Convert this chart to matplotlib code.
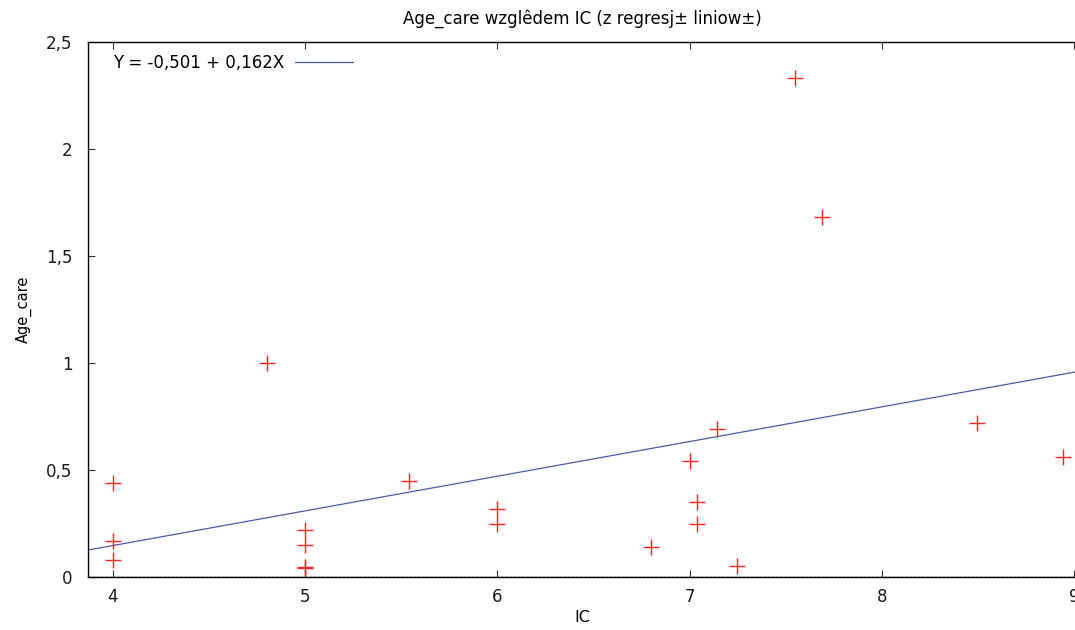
import os
import matplotlib
matplotlib.use("Agg")
import matplotlib.pyplot as plt
from matplotlib import font_manager
import numpy as np

# dane
ic = [4, 4, 4, 4.8, 5, 5, 5, 5, 5.54, 6, 6, 6.8, 7, 7.04, 7.04, 7.14, 7.245, 7.547, 7.69, 8.495, 8.94]
age_care = [0.44, 0.17, 0.08, 1.0, 0.22, 0.15, 0.04, 0.045, 0.45, 0.32, 0.25, 0.14, 0.54, 0.35, 0.25, 0.69, 0.05, 2.33, 1.68, 0.72, 0.56]
a, b = -0.501, 0.162
x_ticks = [4, 5, 6, 7, 8, 9]
y_ticks = [0, 0.5, 1, 1.5, 2, 2.5]
y_labels = ["0", "0,5", "1", "1,5", "2", "2,5"]

# czcionka DejaVu Sans z plikow matplotliba
ttf = os.path.join(matplotlib.get_data_path(), "fonts", "ttf", "DejaVuSans.ttf")
font_manager.fontManager.addfont(ttf)
name = font_manager.FontProperties(fname=ttf).get_name()
plt.rcParams['font.family'] = [name]

fs = 12

fig = plt.figure(figsize=(10.75, 6.3), dpi=100)
ax = fig.add_axes([88/1075, 53/630, 988/1075, 535/630])

xmin, xmax = 3.87, 9.01
ax.set_xlim(xmin, xmax)
ax.set_ylim(0, 2.5)

xl = np.array([xmin, xmax])
ax.plot(xl, a + b * xl, color='#4a5ba8', lw=0.9, label='Y = -0,501 + 0,162X')
ax.plot(ic, age_care, '+', color='#ff2020', ms=11, mew=1.0)
ax.axhline(0, color='black', lw=1.0, ls=(0, (2, 1)))

ax.set_xticks(x_ticks)
ax.set_xticklabels([str(t) for t in x_ticks])
ax.set_yticks(y_ticks)
ax.set_yticklabels(y_labels)
ax.tick_params(direction='in', length=5, top=True, right=False, labelsize=fs, color='#333333',
               labelcolor='#1a1a1a')
ax.tick_params(axis='x', pad=8)
ax.tick_params(axis='y', pad=11)
ax.spines['right'].set_visible(False)
for s in ['left', 'top', 'bottom']:
    ax.spines[s].set_linewidth(1.0)

ax.set_title("Age_care wzglêdem IC (z regresj± liniow±)", fontsize=fs, pad=13)
ax.set_xlabel("IC", fontsize=fs - 0.5, labelpad=3)
ax.set_ylabel("Age_care", fontsize=fs - 1.5, labelpad=10)

ax.legend(loc='upper left', bbox_to_anchor=(0.014, 1.0), frameon=False, fontsize=fs,
          handlelength=3.5, markerfirst=False, borderaxespad=0.3, handletextpad=0.6)

fig.savefig("out.png", dpi=100)
